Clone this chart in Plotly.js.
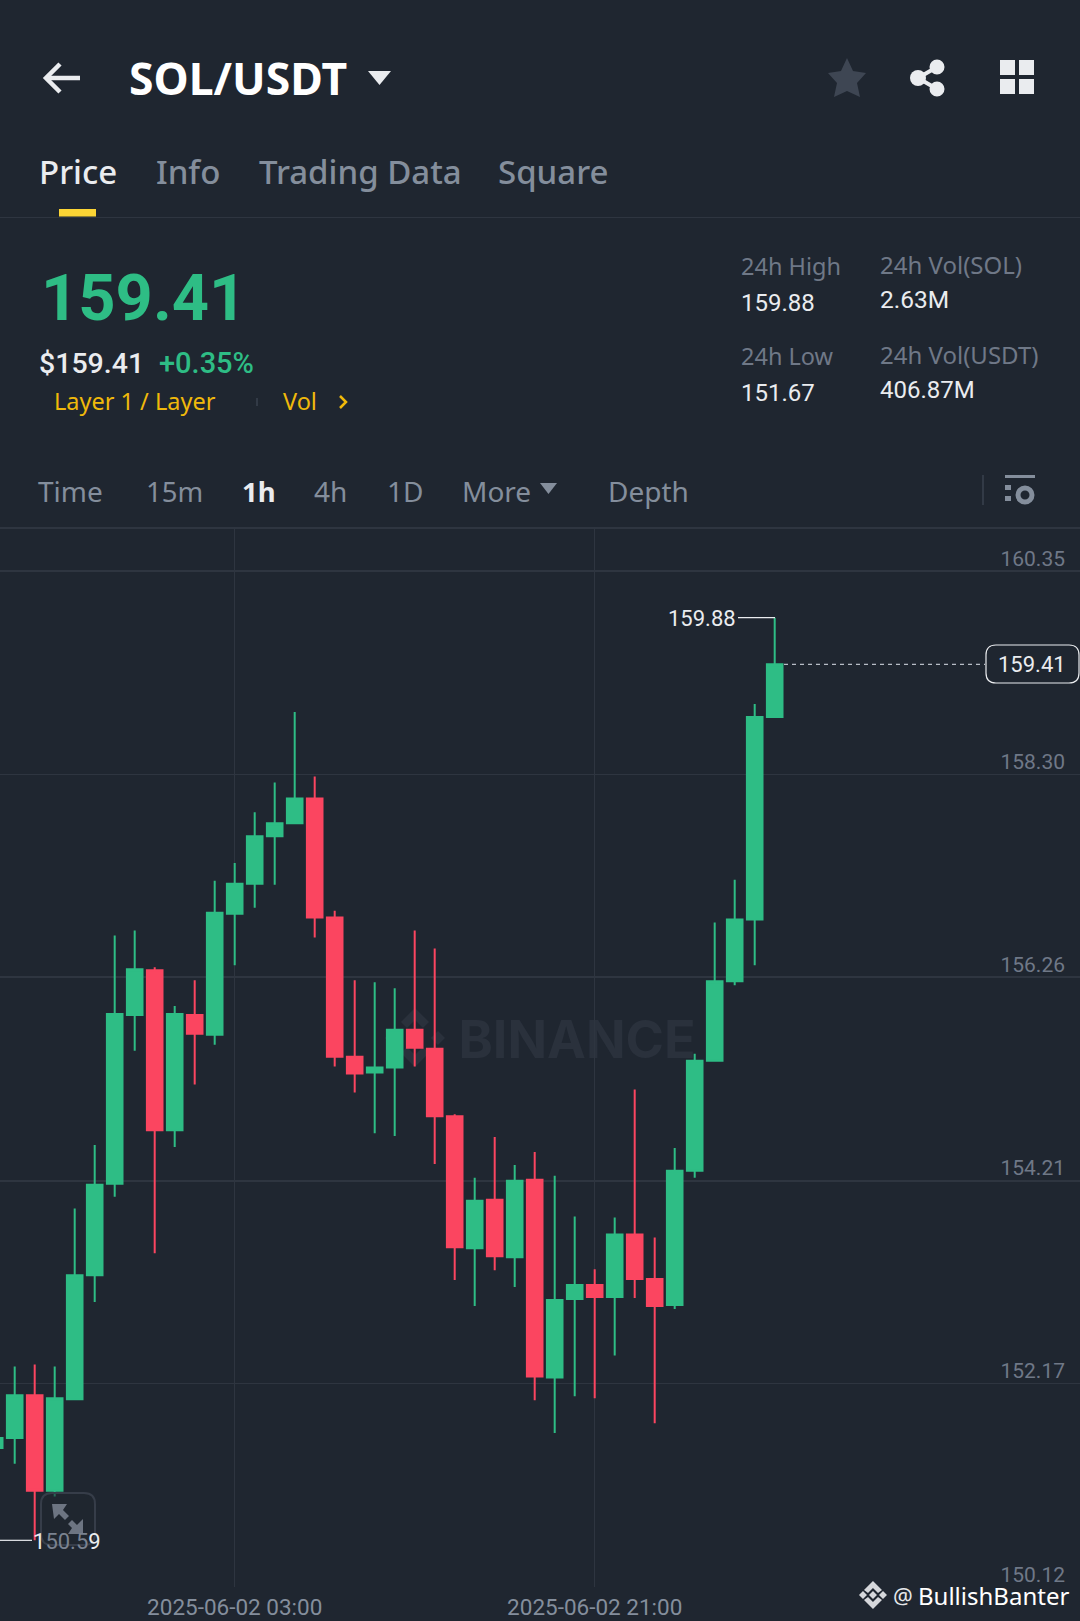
<!DOCTYPE html>
<html>
<head>
<meta charset="utf-8">
<script src="https://cdn.plot.ly/plotly-3.0.1.min.js"></script>
<style>html,body{margin:0;padding:0;background:#1f2630}#chart{width:1080px;height:1621px}</style>
</head>
<body>
<div id="chart"></div>
<script>
// ---------- data ----------
var firstCandle = '2025-06-01T15:00:00';
var opens  = [151.52,151.62,152.05,151.09,152.01,153.26,154.18,155.88,156.33,154.72,155.88,155.68,156.90,157.20,157.68,157.81,158.06,156.86,155.46,155.30,155.35,155.73,155.54,154.86,153.53,154.02,153.44,154.22,152.23,153.02,153.16,153.04,153.67,153.22,152.96,154.31,155.42,156.22,156.84,158.88];
var highs  = [151.70,152.34,152.36,152.34,153.93,154.57,156.68,156.73,156.36,155.97,156.23,157.23,157.41,157.92,158.22,158.93,158.28,156.93,156.23,156.21,156.15,156.73,156.55,154.88,154.24,154.65,154.37,154.50,154.26,153.85,153.32,153.84,155.13,153.64,154.54,155.49,156.81,157.24,159.01,159.88];
var lows   = [151.50,151.36,150.59,151.03,152.01,152.99,154.05,155.52,153.48,154.55,155.18,155.58,156.38,156.96,157.19,157.81,156.66,155.36,155.10,154.69,154.66,155.36,154.38,153.21,152.95,153.31,153.14,152.00,151.67,152.04,152.02,152.45,153.03,151.77,152.92,154.24,155.42,156.18,156.38,158.87];
var closes = [151.62,152.05,151.09,152.02,153.26,154.17,155.89,156.34,154.72,155.89,155.69,156.91,157.20,157.68,157.81,158.06,156.86,155.46,155.29,155.35,155.73,155.55,154.86,153.54,154.01,153.45,154.21,152.24,153.01,153.16,153.04,153.67,153.22,152.95,154.31,155.42,156.22,156.84,158.88,159.41];
var priceTicks = [160.35,158.30,156.26,154.21,152.17,150.12];
var priceTickLabels = ['160.35','158.30','156.26','154.21','152.17','150.12'];
var dateTicks = ['2025-06-02T03:00:00','2025-06-02T21:00:00'];
var dateTickLabels = ['2025-06-02 03:00','2025-06-02 21:00'];
var lastPrice = 159.41, highPrice = 159.88, lowPrice = 150.59;

// ---------- palette ----------
var BG='#1f2630', GRID='#2e3540', GREEN='#2ebd85', RED='#fb4560', GREY='#848e9c', DIM='#6f7887', WHITE='#eaecef', GOLD='#f0b90b';

// ---------- helpers (pixel -> paper) ----------
var W=1080,H=1621, PLOT_TOP=528, PLOT_BOTTOM=1587;
function fx(x){return x/W;} function fy(y){return 1-y/H;}
function path(d){ // "M x y L x y ..." given in page pixels
  var isX=true;
  return d.replace(/-?\d+(\.\d+)?/g,function(n){var v=parseFloat(n);var r=isX?fx(v):fy(v);isX=!isX;return r.toFixed(6);});
}
function rr(x0,y0,x1,y1,r){return 'M '+(x0+r)+' '+y0+' L '+(x1-r)+' '+y0+' Q '+x1+' '+y0+' '+x1+' '+(y0+r)+' L '+x1+' '+(y1-r)+' Q '+x1+' '+y1+' '+(x1-r)+' '+y1+' L '+(x0+r)+' '+y1+' Q '+x0+' '+y1+' '+x0+' '+(y1-r)+' L '+x0+' '+(y0+r)+' Q '+x0+' '+y0+' '+(x0+r)+' '+y0+' Z';}
function fillShape(d,color,layer){return {type:'path',xref:'paper',yref:'paper',path:path(d),fillcolor:color,line:{width:0},layer:layer||'above'};}
function lineShape(d,color,w,layer){return {type:'path',xref:'paper',yref:'paper',path:path(d),line:{color:color,width:w},layer:layer||'above'};}
function circle(cx,cy,r,color){return {type:'circle',xref:'paper',yref:'paper',x0:fx(cx-r),x1:fx(cx+r),y0:fy(cy+r),y1:fy(cy-r),fillcolor:color,line:{width:0},layer:'above'};}
var SANS='"Noto Sans", sans-serif', NUM='Roboto, sans-serif';
function note(text,x,y,size,color,opt){opt=opt||{};return {text:text,showarrow:false,xref:'paper',yref:'paper',x:fx(x),y:fy(y),xanchor:opt.anchor||'left',yanchor:'middle',borderpad:0,
  font:{family:opt.family||SANS,size:size,color:color,weight:opt.weight||400}};}

// ---------- dates ----------
var times=[];var t0=new Date(firstCandle+'Z').getTime();
for(var i=0;i<opens.length;i++){times.push(new Date(t0+i*3600000).toISOString().slice(0,19));}

var trace={type:'candlestick',x:times,open:opens,high:highs,low:lows,close:closes,whiskerwidth:0,
  increasing:{line:{color:GREEN,width:2},fillcolor:GREEN},decreasing:{line:{color:RED,width:2},fillcolor:RED},hoverinfo:'skip'};

var shapes=[
  // watermark below candles
  fillShape('M 415 1008 L 429 1022 L 423 1028 L 415 1020 L 407 1028 L 401 1022 Z M 385 1038 L 392 1031 L 399 1038 L 392 1045 Z M 431 1038 L 438 1031 L 445 1038 L 438 1045 Z M 415 1031 L 422 1038 L 415 1045 L 408 1038 Z M 401 1053 L 407 1047 L 415 1055 L 423 1047 L 429 1053 L 415 1067 Z','#2a313c','below'),
  // header dividers
  lineShape('M 0 217.5 L 1080 217.5',GRID,1.2),
  lineShape('M 0 528 L 1080 528',GRID,2),
  fillShape('M 59 209 L 96 209 L 96 216.5 L 59 216.5 Z','#fcd535'),
  // back arrow
  lineShape('M 46 78 L 80 78',WHITE,4.5),
  lineShape('M 60 64 L 46 78 L 60 92',WHITE,4.5),
  // dropdown triangle
  fillShape('M 368 71 L 391 71 L 379.5 85 Z',WHITE),
  // star
  fillShape('M 847 58 L 853 71 L 866 73 L 857 83 L 860 97 L 847 91 L 834 97 L 837 83 L 828 73 L 841 71 Z','#3e4653'),
  // share
  lineShape('M 937 67 L 918 78 L 937 89',WHITE,4),
  circle(937,67,7.5,WHITE),circle(918,78,8,WHITE),circle(937,89,7.5,WHITE),
  // grid icon
  fillShape('M 1000 60 L 1015 60 L 1015 75 L 1000 75 Z',WHITE),fillShape('M 1019 60 L 1034 60 L 1034 75 L 1019 75 Z',WHITE),
  fillShape('M 1000 79 L 1015 79 L 1015 94 L 1000 94 Z',WHITE),fillShape('M 1019 79 L 1034 79 L 1034 94 L 1019 94 Z',WHITE),
  // small marks in header
  lineShape('M 257 398 L 257 406','#3a424e',1.5),
  lineShape('M 340 396 L 346 402 L 340 408',GOLD,2.5),
  fillShape('M 540 483 L 557 483 L 548.5 494 Z',GREY),
  lineShape('M 983 475 L 983 505','#3a424e',1.5),
  // settings icon
  fillShape('M 1005 475 L 1035 475 L 1035 478 L 1005 478 Z',GREY),
  fillShape('M 1005 485 L 1011 485 L 1011 490 L 1005 490 Z',GREY),fillShape('M 1005 496 L 1011 496 L 1011 501 L 1005 501 Z',GREY),
  {type:'circle',xref:'paper',yref:'paper',x0:fx(1018),x1:fx(1032),y0:fy(502),y1:fy(488),fillcolor:BG,line:{color:GREY,width:5},layer:'above'},
  // high / low markers and last price line
  {type:'line',xref:'paper',yref:'y',x0:fx(738),x1:fx(775),y0:highPrice,y1:highPrice,line:{color:WHITE,width:1.2},layer:'above'},
  {type:'line',xref:'paper',yref:'y',x0:0,x1:fx(32),y0:lowPrice,y1:lowPrice,line:{color:WHITE,width:1.2},layer:'above'},
  {type:'line',xref:'paper',yref:'y',x0:fx(784),x1:fx(985),y0:lastPrice,y1:lastPrice,line:{color:'#b7bdc6',width:1.3,dash:'4px,4px'},layer:'above'},
  {type:'path',xref:'paper',yref:'paper',path:path(rr(986,645,1079,683,10)),fillcolor:BG,line:{color:WHITE,width:1.2},layer:'above'},
  // expand button
  {type:'path',xref:'paper',yref:'paper',path:path(rr(41,1493,95,1545,11)),fillcolor:'rgba(31,38,48,0.55)',line:{color:'#363d49',width:2},layer:'above'},
  fillShape('M 52 1504 L 67 1504 L 63 1510 L 69 1516 L 65 1520 L 59 1514 L 54 1519 Z','#6d7582'),
  fillShape('M 83 1534 L 68 1534 L 72 1528 L 68 1524 L 72 1520 L 77 1525 L 83 1519 Z','#6d7582'),
  // footer logo
  fillShape('M 873 1581 L 882 1590 L 878 1593 L 873 1588 L 868 1593 L 864 1590 Z M 859 1595 L 863 1591 L 867 1595 L 863 1599 Z M 879 1595 L 883 1591 L 887 1595 L 883 1599 Z M 873 1591 L 877 1595 L 873 1599 L 869 1595 Z M 864 1600 L 868 1597 L 873 1602 L 878 1597 L 882 1600 L 873 1609 Z','#d5d7db')
];
// BINANCE watermark text lives in a below-layer shape so candles draw over it
shapes.push({type:'rect',xref:'paper',yref:'paper',x0:fx(459),x1:fx(695),y0:fy(1058),y1:fy(1016),line:{width:0},fillcolor:'rgba(0,0,0,0)',layer:'below',
  label:{text:'BINANCE',textposition:'middle center',font:{family:'Inter, sans-serif',size:52,color:'#2a313c',weight:700}}});

var annotations=[
  note('SOL/USDT',128,78,44.5,'#ffffff',{weight:700}),
  note('Price',38,172,33,WHITE,{weight:500}),
  note('Info',154.5,172,33,GREY,{weight:500}),
  note('Trading Data',258,172,33,GREY,{weight:500}),
  note('Square',497,172,33,GREY,{weight:500}),
  note('159.41',40,298,65,GREEN,{family:NUM,weight:700}),
  note('$159.41',38,363,28.5,WHITE,{family:NUM,weight:500}),
  note('+0.35%',158,363,29,GREEN,{family:NUM,weight:500}),
  note('Layer 1 / Layer',53,401,23.5,GOLD),
  note('Vol',282,401,23.5,GOLD),
  note('24h High',740,266,23.5,DIM),
  note('159.88',740,303,24,WHITE,{family:NUM}),
  note('24h Low',740,356,23.5,DIM),
  note('151.67',740,393,24,WHITE,{family:NUM}),
  note('24h Vol(SOL)',879,264,24,DIM),
  note('2.63M',879,300,24.5,WHITE,{family:NUM}),
  note('24h Vol(USDT)',879,354,24,DIM),
  note('406.87M',879,390,24,WHITE,{family:NUM}),
  note('Time',37,491,28,GREY),
  note('15m',144.5,491,27.5,GREY),
  note('1h',241,491,27.5,WHITE,{weight:700}),
  note('4h',313,491,28,GREY),
  note('1D',386,491,28,GREY),
  note('More',461,491,28,GREY),
  note('Depth',607,491,28,GREY),
  note('159.88',737,618,22,WHITE,{family:NUM,anchor:'right'}),
  note('159.41',1032,664.5,22,WHITE,{family:NUM,anchor:'center'}),
  note('1<span style="color:#7a8290">50.5</span>9',32,1541,22,WHITE,{family:NUM}),
  note('@',892,1595,22,'#e6e8ea',{family:SANS}),
  note('BullishBanter',917,1595,24,'#ffffff',{family:SANS})
];

var layout={
  width:W,height:H,margin:{l:0,r:0,t:0,b:0,pad:0},paper_bgcolor:BG,plot_bgcolor:BG,showlegend:false,dragmode:false,
  boxgap:0.22,boxgroupgap:0,
  xaxis:{type:'date',domain:[0,1],range:['2025-06-01 15:15:54','2025-06-03 21:15:54'],rangeslider:{visible:false},
    tickmode:'array',tickvals:dateTicks,ticktext:dateTickLabels,ticks:'',ticklabelstandoff:4,showgrid:true,gridcolor:GRID,gridwidth:1.5,zeroline:false,showline:false,
    tickfont:{family:NUM,size:22.5,color:GREY},automargin:false,fixedrange:true},
  yaxis:{domain:[fy(PLOT_BOTTOM),fy(PLOT_TOP)],range:[150.12,160.783],side:'right',
    tickmode:'array',tickvals:priceTicks,ticktext:priceTickLabels,ticks:'',ticklabelposition:'inside top',ticklabelstandoff:12,ticklabelshift:2,showgrid:true,gridcolor:GRID,gridwidth:1.5,zeroline:false,showline:false,
    tickfont:{family:NUM,size:21,color:DIM},automargin:false,fixedrange:true},
  shapes:shapes,annotations:annotations
};
Plotly.newPlot('chart',[trace],layout,{displayModeBar:false,staticPlot:true,responsive:false});
</script>
</body>
</html>
